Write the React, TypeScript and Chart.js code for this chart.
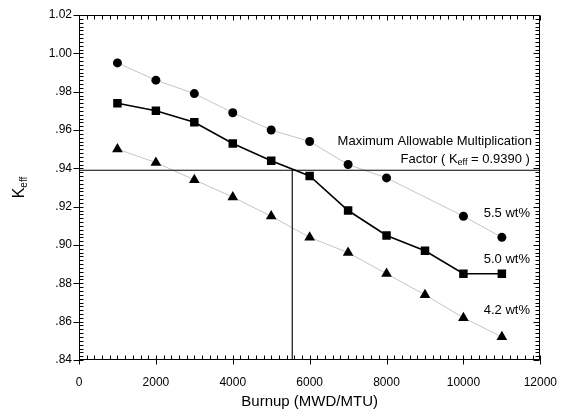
import React, { useEffect, useRef } from "react";
import { Chart, registerables } from "chart.js";

Chart.register(...registerables);

const burnup = [1000, 2000, 3000, 4000, 5000, 6000, 7000, 8000, 9000, 10000, 11000];
const burnup55 = [1000, 2000, 3000, 4000, 5000, 6000, 7000, 8000, 10000, 11000];
const keff55 = [0.995, 0.986, 0.979, 0.969, 0.960, 0.954, 0.942, 0.935, 0.915, 0.904];
const keff50 = [0.974, 0.970, 0.964, 0.953, 0.944, 0.936, 0.918, 0.905, 0.897, 0.885, 0.885];
const keff42 = [0.950, 0.943, 0.934, 0.925, 0.915, 0.904, 0.896, 0.885, 0.874, 0.862, 0.852];
const limitK = 0.939;
const limitBurnup = 5550;
const xMin = 0, xMax = 12000, xStep = 2000, xMinor = 200;
const yMin = 0.84, yMax = 1.02, yStep = 0.02, yMinor = 0.002;
const seriesLabels = ["5.5 wt%", "5.0 wt%", "4.2 wt%"];
const seriesLabelY = [0.9167, 0.8927, 0.8658];
const noteLine1 = "Maximum Allowable Multiplication";
const noteY = [0.9539, 0.9449];
const xTitle = "Burnup (MWD/MTU)";

const FONT = '"Liberation Sans", Arial, Helvetica, sans-serif';

const decorPlugin = {
  id: "decor",
  afterDraw(chart: any) {
    const { ctx, chartArea: a, scales } = chart;
    const xs = scales.x, ys = scales.y;
    ctx.save();
    ctx.strokeStyle = "#000";
    ctx.lineWidth = 1;
    // frame
    ctx.strokeRect(Math.round(a.left) + 0.5, Math.round(a.top) + 0.5, Math.round(a.right - a.left) - 1, Math.round(a.bottom - a.top) - 1);
    ctx.beginPath();
    // x ticks
    const nX = Math.round((xMax - xMin) / xMinor);
    for (let i = 0; i <= nX; i++) {
      const v = xMin + i * xMinor;
      const px = Math.round(xs.getPixelForValue(v)) + 0.5;
      const major = i % Math.round(xStep / xMinor) === 0;
      const b = Math.round(a.bottom) - 0.5;
      const t = Math.round(a.top) + 0.5;
      ctx.moveTo(px, b + (major ? 5 : 0));
      ctx.lineTo(px, b - 4);
      ctx.moveTo(px, t);
      ctx.lineTo(px, t + (major ? 5 : 4));
    }
    const nY = Math.round((yMax - yMin) / yMinor);
    for (let i = 0; i <= nY; i++) {
      const v = yMin + i * yMinor;
      const py = Math.round(ys.getPixelForValue(v)) + 0.5;
      const major = i % Math.round(yStep / yMinor) === 0;
      const l = Math.round(a.left) + 0.5;
      const r = Math.round(a.right) - 0.5;
      ctx.moveTo(l - (major ? 6 : 0), py);
      ctx.lineTo(l + 4, py);
      ctx.moveTo(r, py);
      ctx.lineTo(r - (major ? 6 : 4), py);
    }
    ctx.stroke();

    ctx.fillStyle = "#000";
    // y title K_eff
    ctx.save();
    ctx.translate(24, (a.top + a.bottom) / 2);
    ctx.rotate(-Math.PI / 2);
    ctx.textBaseline = "alphabetic";
    ctx.textAlign = "left";
    ctx.font = `16px ${FONT}`;
    const wK = ctx.measureText("K").width;
    ctx.font = `10px ${FONT}`;
    const wE = ctx.measureText("eff").width;
    const start = -(wK + wE) / 2;
    ctx.font = `16px ${FONT}`;
    ctx.fillText("K", start, 0);
    ctx.font = `10px ${FONT}`;
    ctx.fillText("eff", start + wK, 3);
    ctx.restore();

    // x title
    ctx.font = `15px ${FONT}`;
    ctx.textAlign = "center";
    ctx.textBaseline = "middle";
    ctx.fillText(xTitle, (a.left + a.right) / 2, 402);

    // annotations
    const rx = xs.getPixelForValue(11730);
    ctx.font = `13px ${FONT}`;
    ctx.textAlign = "right";
    ctx.fillText(noteLine1, rx + 2, ys.getPixelForValue(noteY[0]));
    // Factor ( K_eff = 0.9390 )
    const y2 = ys.getPixelForValue(noteY[1]);
    const p1 = "Factor ( K";
    const p3 = ` = ${limitK.toFixed(4)} )`;
    ctx.font = `13px ${FONT}`;
    const w3 = ctx.measureText(p3).width;
    ctx.font = `9px ${FONT}`;
    const w2 = ctx.measureText("eff").width;
    ctx.textAlign = "right";
    ctx.font = `13px ${FONT}`;
    ctx.fillText(p3, rx, y2);
    ctx.font = `9px ${FONT}`;
    ctx.fillText("eff", rx - w3, y2 + 4);
    ctx.font = `13px ${FONT}`;
    ctx.fillText(p1, rx - w3 - w2, y2);

    seriesLabels.forEach((s, i) => {
      ctx.fillText(s, rx, ys.getPixelForValue(seriesLabelY[i]));
    });
    ctx.restore();
  },
};

export default function App() {
  const ref = useRef<HTMLCanvasElement>(null);
  useEffect(() => {
    document.body.style.margin = "0";
    const pts = (xs: number[], ys: number[]) => xs.map((x, i) => ({ x, y: ys[i] }));
    const chart = new Chart(ref.current as HTMLCanvasElement, {
      type: "line",
      data: {
        datasets: [
          {
            label: "limitH",
            data: [{ x: xMin, y: limitK }, { x: xMax, y: limitK }],
            borderColor: "#000",
            borderWidth: 1,
            pointRadius: 0,
          },
          {
            label: "limitV",
            data: [{ x: limitBurnup, y: limitK }, { x: limitBurnup, y: yMin }],
            borderColor: "#333",
            borderWidth: 1,
            pointRadius: 0,
          },
          {
            label: seriesLabels[0],
            data: pts(burnup55, keff55),
            borderColor: "#c4c4c4",
            borderWidth: 1,
            pointStyle: "circle",
            pointRadius: 4.5,
            pointBackgroundColor: "#000",
            pointBorderColor: "#000",
            pointBorderWidth: 0,
          },
          {
            label: seriesLabels[1],
            data: pts(burnup, keff50),
            borderColor: "#000",
            borderWidth: 1.6,
            pointStyle: "rect",
            pointRadius: 6,
            pointBackgroundColor: "#000",
            pointBorderColor: "#000",
            pointBorderWidth: 0,
          },
          {
            label: seriesLabels[2],
            data: pts(burnup, keff42),
            borderColor: "#c4c4c4",
            borderWidth: 1,
            pointStyle: "triangle",
            pointRadius: 6.2,
            pointBackgroundColor: "#000",
            pointBorderColor: "#000",
            pointBorderWidth: 0,
          },
        ],
      },
      options: {
        responsive: false,
        animation: false,
        layout: { padding: { left: 0, right: 27, top: 15, bottom: 0 } },
        plugins: { legend: { display: false }, tooltip: { enabled: false } },
        elements: { line: { tension: 0 } },
        scales: {
          x: {
            type: "linear",
            min: xMin,
            max: xMax,
            grid: { display: false, drawTicks: false },
            border: { display: false },
            ticks: {
              stepSize: xStep,
              padding: 15,
              color: "#000",
              font: { family: FONT, size: 12 },
              maxRotation: 0,
              callback: (v: any) => String(Math.round(Number(v))),
            },
            afterFit(scale: any) {
              scale.height = 54;
            },
          },
          y: {
            type: "linear",
            min: yMin,
            max: yMax,
            grid: { display: false, drawTicks: false },
            border: { display: false },
            ticks: {
              stepSize: yStep,
              padding: 7,
              color: "#000",
              font: { family: FONT, size: 12 },
              callback: (v: any) => {
                const s = Number(v).toFixed(2);
                return s.startsWith("0") ? s.slice(1) : s;
              },
            },
            afterFit(scale: any) {
              scale.width = 79;
            },
          },
        },
      },
      plugins: [decorPlugin],
    } as any);
    return () => chart.destroy();
  }, []);
  return <canvas ref={ref} width={572} height={414} style={{ display: "block" }} />;
}
